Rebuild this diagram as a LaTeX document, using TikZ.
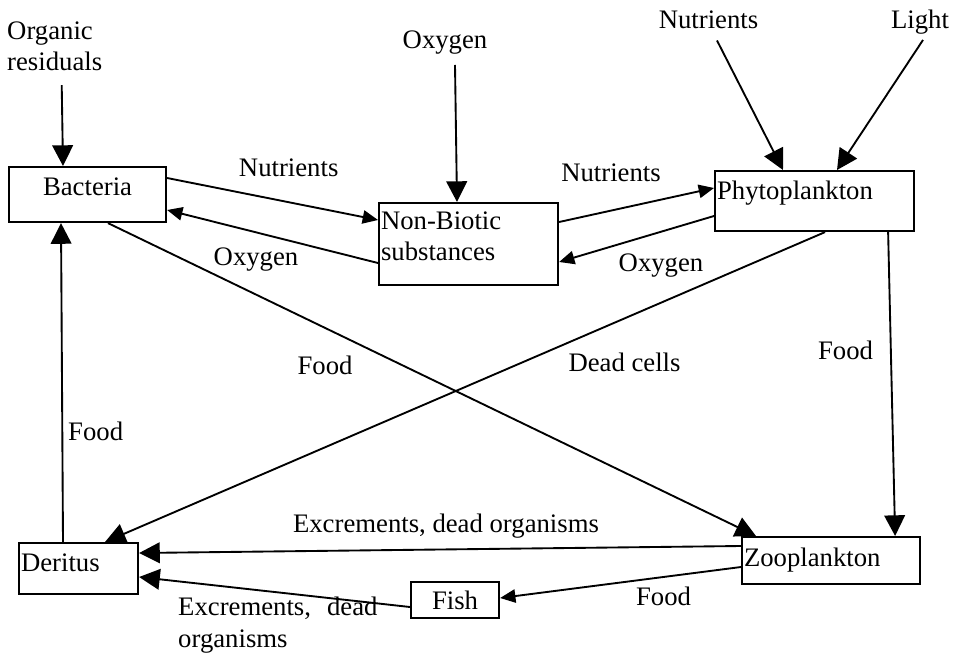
\documentclass[tikz,border=0pt]{standalone}
\usepackage{fontspec}
\setmainfont{Liberation Serif}
\usetikzlibrary{arrows.meta}

\tikzset{
  box/.style={draw, line width=1.8pt, anchor=north west, inner xsep=0.06cm, inner ysep=0pt},
  lbl/.style={anchor=base, inner sep=0pt},
  flow/.style={line width=1.6pt, -{Triangle[length=0.62cm,width=0.62cm]}},
  thinflow/.style={line width=1.6pt, -{Triangle[length=0.46cm,width=0.4cm]}}
}

\begin{document}
\begin{tikzpicture}[x=0.03cm, y=-0.03cm, font=\fontsize{22.8}{27}\selectfont]
    \useasboundingbox (0,0) rectangle (957,656);

    % compartments
    \node[box, minimum width=4.71cm, text height=0.84cm, text depth=0.81cm] (bact) at (8,166) {Bacteria};
    \node[box, text width=5.25cm, align=left, text height=0.78cm, text depth=1.68cm] (non) at (378,202) {Non-Biotic\\substances};
    \node[box, text width=5.85cm, align=left, text height=0.84cm, text depth=0.96cm] (phyto) at (714,170) {Phytoplankton};
    \node[box, text width=3.45cm, align=left, text height=0.84cm, text depth=0.69cm] (der) at (18,542) {Deritus};
    \node[box, minimum width=2.64cm, text height=0.81cm, text depth=0.27cm] (fish) at (410,581) {Fish};
    \node[box, text width=5.22cm, align=left, text height=0.87cm, text depth=0.54cm] (zoo) at (741,536) {Zooplankton};

    % sources
    \node[anchor=base west, inner sep=0pt, align=left] (org) at (7,70.7) {Organic\\residuals};
    \node[lbl] (oxsrc) at (445,49) {Oxygen};
    \node[lbl] (nutsrc) at (708.5,29) {Nutrients};
    \node[lbl] (light) at (920,29) {Light};

    % flow labels
    \node[lbl] (nutA) at (288.7,176.7) {Nutrients};
    \node[lbl] (oxA) at (256,266) {Oxygen};
    \node[lbl] (nutB) at (611,181.7) {Nutrients};
    \node[lbl] (oxB) at (661,271.7) {Oxygen};
    \node[lbl] (foodA) at (325,374) {Food};
    \node[lbl] (dead) at (624.5,371) {Dead cells};
    \node[lbl] (foodB) at (845.5,359) {Food};
    \node[lbl] (foodC) at (95.7,440) {Food};
    \node[lbl] (excA) at (446,532) {Excrements, dead organisms};
    \node[anchor=base west, inner sep=0pt, align=left] (excB) at (178,647) {Excrements,\hspace{0.6em}dead\\organisms};
    \node[lbl] (foodD) at (663.5,605) {Food};

    % inputs
    \draw[flow] ([xshift=0.21cm,yshift=-0.42cm]org.south) -- ([xshift=1.65cm]bact.north west);
    \draw[flow] ([xshift=0.3cm,yshift=-0.3cm]oxsrc.south) -- ([xshift=2.37cm]non.north west);
    \draw[flow] ([xshift=0.255cm,yshift=-0.33cm]nutsrc.south) -- ([xshift=2.07cm]phyto.north west);
    \draw[flow] ([xshift=0.09cm,yshift=-0.15cm]light.south) -- ([xshift=3.69cm]phyto.north west);

    % exchanges
    \draw[thinflow] ([yshift=-0.36cm]bact.north east) -- ([yshift=-0.54cm]non.north west);
    \draw[thinflow] ([yshift=-1.83cm]non.north west) -- ([yshift=-1.32cm]bact.north east);
    \draw[thinflow] ([yshift=-0.6cm]non.north east) -- ([yshift=-0.54cm]phyto.north west);
    \draw[thinflow] ([yshift=-1.38cm]phyto.north west) -- ([yshift=-1.8cm]non.north east);

    % food chain
    \draw[flow] ([xshift=3.0cm]bact.south west) -- ([xshift=0.45cm]zoo.north west);
    \draw[flow] ([xshift=3.33cm]phyto.south west) -- ([xshift=2.61cm]der.north west);
    \draw[flow] ([xshift=-0.81cm]phyto.south east) -- ([xshift=-0.78cm]zoo.north east);
    \draw[flow] ([xshift=1.35cm]der.north west) -- ([xshift=1.59cm]bact.south west);
    \draw[flow] ([yshift=-0.3cm]zoo.north west) -- ([yshift=-0.33cm]der.north east);
    \draw[flow] ([yshift=-0.78cm]fish.north west) -- ([yshift=-1.05cm]der.north east);
    \draw[thinflow] ([yshift=-0.93cm]zoo.north west) -- ([yshift=-0.51cm]fish.north east);
\end{tikzpicture}
\end{document}
